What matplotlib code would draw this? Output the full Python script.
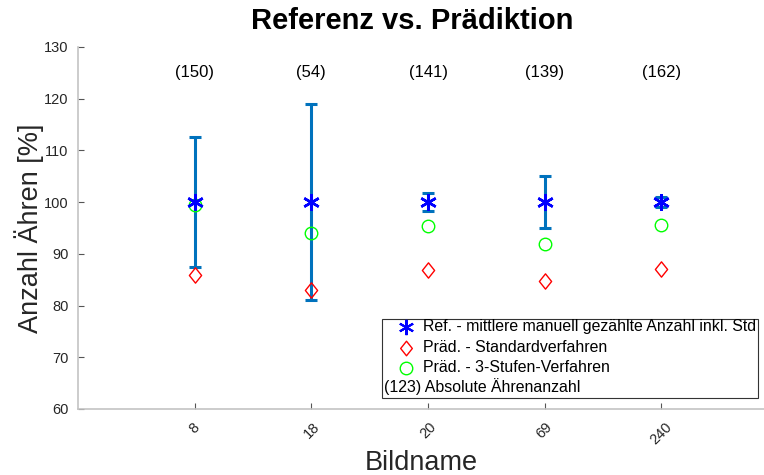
import matplotlib
matplotlib.use("Agg")
import matplotlib.pyplot as plt
from matplotlib.patches import Rectangle
from matplotlib.lines import Line2D
from matplotlib.path import Path

plt.rcParams['font.family'] = ['Liberation Sans', 'DejaVu Sans']

images = ["8", "18", "20", "69", "240"]
ref_mean = [100, 100, 100, 100, 100]
ref_std = [12.5, 19.0, 1.8, 5.0, 1.0]
pred_standard = [86.0, 83.0, 86.8, 84.8, 87.1]
pred_3stufen = [99.5, 94.0, 95.3, 92.0, 95.6]
counts = [150, 54, 141, 139, 162]

diamond = Path([(0, 1), (0.8, 0), (0, -1), (-0.8, 0), (0, 1)],
               [Path.MOVETO, Path.LINETO, Path.LINETO, Path.LINETO, Path.CLOSEPOLY])

W, H = 764, 475
fig = plt.figure(figsize=(W / 100, H / 100), dpi=100)
ax = fig.add_axes([78 / W, 1 - 409 / H, 1 - 78 / W, (409 - 47) / H])

x = list(range(1, len(images) + 1))
ax.errorbar(x, ref_mean, yerr=ref_std, fmt='none', ecolor='#0072BD',
            elinewidth=2.2, capsize=4.5, capthick=2.2, zorder=2)
ax.plot(x, ref_mean, linestyle='none', marker=(6, 2, 0), markersize=12,
        markeredgewidth=1.8, color='blue', zorder=4)
ax.plot(x, pred_standard, linestyle='none', marker=diamond, markersize=11,
        markerfacecolor='none', markeredgecolor='red', markeredgewidth=1.0, zorder=3)
ax.plot(x, pred_3stufen, linestyle='none', marker='o', markersize=9,
        markerfacecolor='none', markeredgecolor='#00ff00', markeredgewidth=1.0, zorder=3)

for xi, c in zip(x, counts):
    ax.text(xi, 125, f"({c})", ha='center', va='center', fontsize=12, color='black')

ax.set_xlim(0, 5.88)
ax.set_ylim(60, 130)
ax.set_yticks(range(60, 131, 10))
ax.set_xticks(x)
ax.set_xticklabels(images, rotation=45, ha='center')
for s in ['top', 'right']:
    ax.spines[s].set_visible(False)
for s in ['left', 'bottom']:
    ax.spines[s].set_color('#c4c4c4')
    ax.spines[s].set_linewidth(1.2)
ax.tick_params(direction='in', length=4, color='#555555', labelsize=10.5,
               labelcolor='#262626')
ax.tick_params(axis='y', pad=7)
ax.tick_params(axis='x', pad=8)
ax.set_ylabel("Anzahl Ähren [%]", fontsize=19.5, color='#262626', labelpad=0)
ax.set_xlabel("Bildname", fontsize=19.5, color='#262626', labelpad=2)
fig.text(412 / W, 1 - 21 / H, "Referenz vs. Prädiktion", ha='center', va='center',
         fontsize=21, fontweight='bold')

# legend box drawn manually
def fx(p):
    return p / W

def fy(p):
    return 1 - p / H

fig.patches.append(Rectangle((fx(382), fy(398)), fx(758) - fx(382), fy(319) - fy(398),
                             transform=fig.transFigure, facecolor='white',
                             edgecolor='#333333', linewidth=0.8, zorder=10))
rows = [327, 348, 368]
labels = ["Ref. - mittlere manuell gezählte Anzahl inkl. Std",
          "Präd. - Standardverfahren",
          "Präd. - 3-Stufen-Verfahren"]
styles = [dict(marker=(6, 2, 0), markersize=11, markeredgewidth=1.5, color='blue'),
          dict(marker=diamond, markersize=10.5, markerfacecolor='none', markeredgecolor='red', markeredgewidth=1.0),
          dict(marker='o', markersize=9, markerfacecolor='none', markeredgecolor='#00ff00', markeredgewidth=1.0)]
for r, lab, st in zip(rows, labels, styles):
    fig.add_artist(Line2D([fx(406)], [fy(r)], transform=fig.transFigure,
                          linestyle='none', zorder=11, **st))
    fig.text(fx(423), fy(r), lab, ha='left', va='center', fontsize=11.4, zorder=11)
fig.text(fx(384), fy(387), "(123) Absolute Ährenanzahl", ha='left', va='center',
         fontsize=11.4, zorder=11)

fig.savefig("out.png", dpi=100)
